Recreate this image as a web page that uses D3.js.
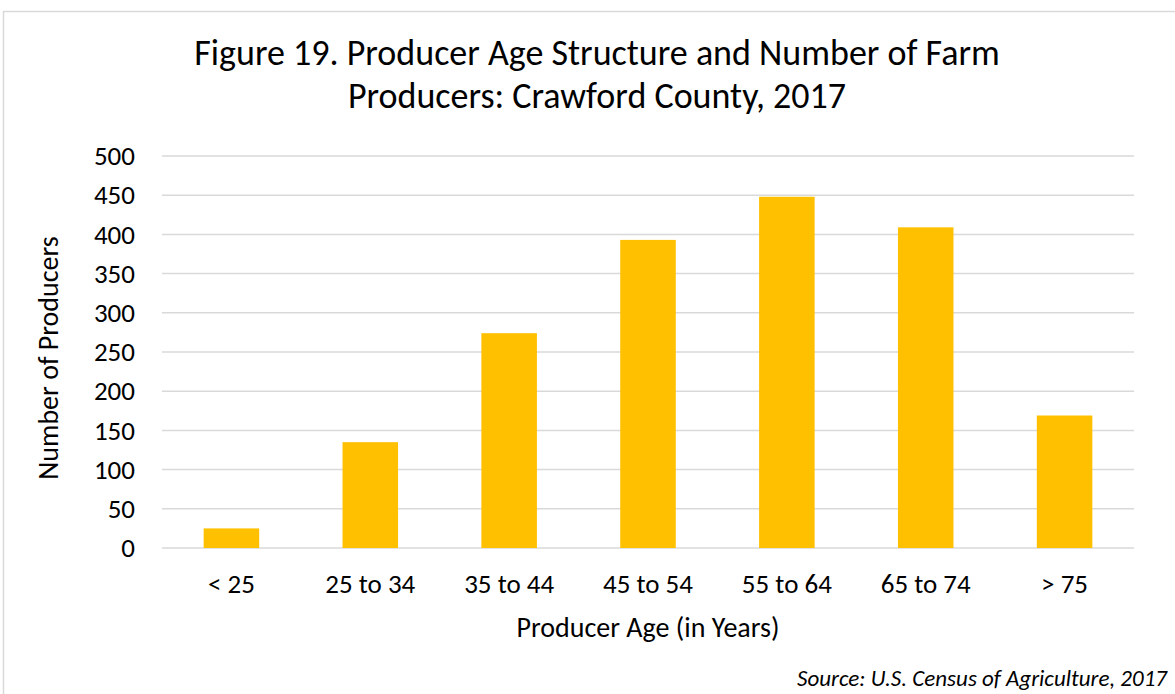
<!DOCTYPE html>
<html>
<head>
<meta charset="utf-8">
<script src="https://cdn.jsdelivr.net/npm/d3@7"></script>
<style>
  body { margin: 0; background: #fff; }
  text { font-family: Calibri, Carlito, "Open Sans", sans-serif; fill: #000; }
</style>
</head>
<body>
<div id="chart"></div>
<script>
// Chart data
var ageGroups = ["< 25", "25 to 34", "35 to 44", "45 to 54", "55 to 64", "65 to 74", "> 75"];
var producers = [25, 135, 274, 393, 448, 409, 169];
var yTicks = [0, 50, 100, 150, 200, 250, 300, 350, 400, 450, 500];

// Set up SVG width and height
var svgWidth = 1175;
var svgHeight = 694;

var margin = { top: 156, right: 41, bottom: 146, left: 162 };
var width = svgWidth - margin.left - margin.right;
var height = svgHeight - margin.top - margin.bottom;

var svg = d3.select("#chart")
  .append("svg")
  .attr("width", svgWidth)
  .attr("height", svgHeight);

// outer chart border
svg.append("rect")
  .attr("x", 3.5)
  .attr("y", 11.5)
  .attr("width", svgWidth + 20)
  .attr("height", svgHeight + 20)
  .attr("fill", "none")
  .attr("stroke", "#d9d9d9")
  .attr("stroke-width", 1.5);

var chartGroup = svg.append("g")
  .attr("transform", `translate(${margin.left}, ${margin.top})`);

var xScale = d3.scaleBand()
  .domain(ageGroups)
  .range([0, width])
  .paddingInner(0.6)
  .paddingOuter(0.3);

var yScale = d3.scaleLinear()
  .domain([0, 500])
  .range([height, 0]);

// gridlines
chartGroup.append("g")
  .selectAll("line")
  .data(yTicks)
  .enter()
  .append("line")
  .attr("x1", 0)
  .attr("x2", width)
  .attr("y1", d => yScale(d))
  .attr("y2", d => yScale(d))
  .attr("stroke", "#d9d9d9")
  .attr("stroke-width", 1.5);

// bars
chartGroup.selectAll("rect")
  .data(producers)
  .enter()
  .append("rect")
  .attr("x", (d, i) => xScale(ageGroups[i]))
  .attr("y", d => yScale(d))
  .attr("width", xScale.bandwidth())
  .attr("height", d => height - yScale(d))
  .attr("fill", "#ffc000");

// y axis
var leftAxis = d3.axisLeft(yScale).tickValues(yTicks).tickSize(0).tickPadding(27);
var yAxis = chartGroup.append("g").call(leftAxis);
yAxis.select(".domain").remove();
yAxis.selectAll("text")
  .style("font-size", "27px")
  .attr("fill", "#000");

// x axis
var bottomAxis = d3.axisBottom(xScale).tickSize(0).tickPadding(26);
var xAxis = chartGroup.append("g")
  .attr("transform", `translate(0, ${height})`)
  .call(bottomAxis);
xAxis.select(".domain").remove();
xAxis.selectAll("text")
  .style("font-size", "27px")
  .attr("fill", "#000");

// title
var title = svg.append("text")
  .attr("text-anchor", "middle")
  .style("font-size", "36px");
title.append("tspan").attr("x", 597).attr("y", 65).text("Figure 19. Producer Age Structure and Number of Farm");
title.append("tspan").attr("x", 597).attr("y", 108).text("Producers: Crawford County, 2017");

// axis titles
svg.append("text")
  .attr("x", 648)
  .attr("y", 637)
  .attr("text-anchor", "middle")
  .style("font-size", "28px")
  .text("Producer Age (in Years)");

svg.append("text")
  .attr("transform", "translate(58, 358) rotate(-90)")
  .attr("text-anchor", "middle")
  .style("font-size", "28px")
  .text("Number of Producers");

// source note
svg.append("text")
  .attr("x", 1167)
  .attr("y", 686)
  .attr("text-anchor", "end")
  .style("font-size", "23px")
  .style("font-style", "italic")
  .text("Source: U.S. Census of Agriculture, 2017");
</script>
</body>
</html>
